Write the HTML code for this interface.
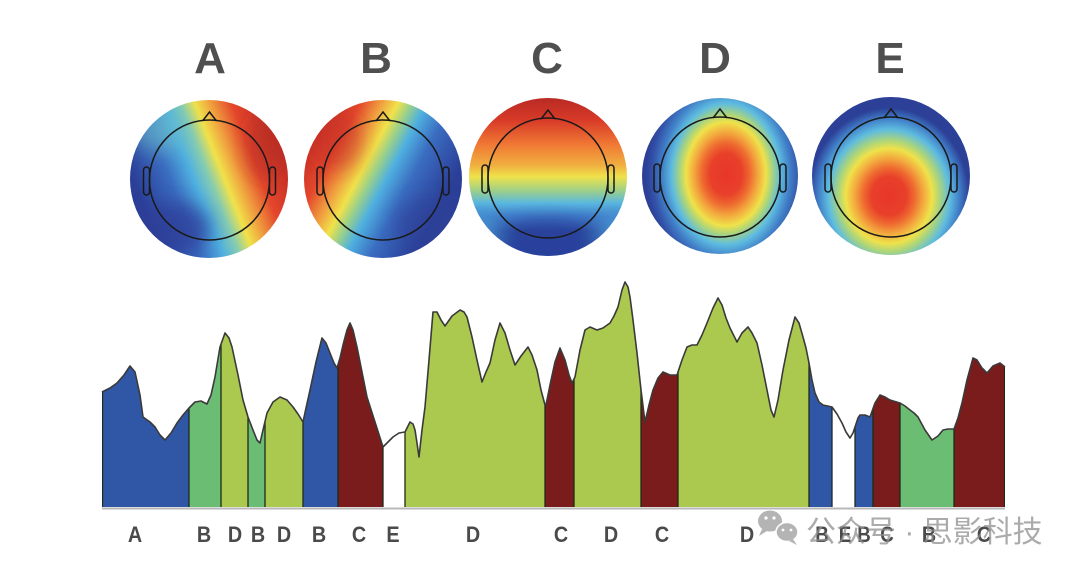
<!DOCTYPE html>
<html><head><meta charset="utf-8"><style>
html,body{margin:0;padding:0;background:#fff;}
svg{display:block;}
</style></head><body>
<svg width="1080" height="573" viewBox="0 0 1080 573" xmlns="http://www.w3.org/2000/svg">
<defs>
  <clipPath id="cA"><circle cx="209" cy="179" r="79"/></clipPath>
  <clipPath id="cB"><circle cx="383" cy="179" r="79"/></clipPath>
  <clipPath id="cC"><circle cx="548" cy="177" r="79"/></clipPath>
  <clipPath id="cD"><circle cx="720" cy="176" r="78"/></clipPath>
  <clipPath id="cE"><circle cx="891" cy="176" r="79"/></clipPath>
  <filter id="bl" x="-50%" y="-50%" width="200%" height="200%"><feGaussianBlur stdDeviation="9"/></filter>
  <linearGradient id="gA" gradientUnits="userSpaceOnUse" x1="146" y1="211" x2="304" y2="149">
    <stop offset="0" stop-color="#2b3f98"/><stop offset="0.2" stop-color="#3a6cc0"/>
    <stop offset="0.33" stop-color="#4fb0e0"/><stop offset="0.42" stop-color="#86ccb0"/>
    <stop offset="0.5" stop-color="#f0e24a"/><stop offset="0.58" stop-color="#f0a440"/>
    <stop offset="0.7" stop-color="#e4472c"/><stop offset="0.9" stop-color="#c02a24"/>
    <stop offset="1" stop-color="#a82222"/>
  </linearGradient>
  <linearGradient id="gB" gradientUnits="userSpaceOnUse" x1="290" y1="125" x2="440" y2="205">
    <stop offset="0" stop-color="#a82222"/><stop offset="0.12" stop-color="#c02a24"/>
    <stop offset="0.3" stop-color="#e4472c"/><stop offset="0.42" stop-color="#f0a440"/>
    <stop offset="0.5" stop-color="#f0e24a"/><stop offset="0.57" stop-color="#9ad08a"/>
    <stop offset="0.65" stop-color="#4fb0e0"/><stop offset="0.78" stop-color="#3a6cc0"/>
    <stop offset="1" stop-color="#2b3f98"/>
  </linearGradient>
  <linearGradient id="gC" gradientUnits="userSpaceOnUse" x1="0" y1="98" x2="0" y2="255">
    <stop offset="0" stop-color="#b82a24"/><stop offset="0.14" stop-color="#d83a28"/>
    <stop offset="0.3" stop-color="#f07a34"/><stop offset="0.43" stop-color="#f0b040"/>
    <stop offset="0.5" stop-color="#efe24a"/><stop offset="0.59" stop-color="#9ed088"/>
    <stop offset="0.67" stop-color="#5ab8e0"/><stop offset="0.75" stop-color="#3f7ac8"/>
    <stop offset="0.85" stop-color="#2c48a0"/><stop offset="1" stop-color="#2a44a0"/>
  </linearGradient>
  <radialGradient id="gD" gradientUnits="userSpaceOnUse" cx="0" cy="0" r="80" gradientTransform="translate(726,174) scale(1,1.3)">
    <stop offset="0" stop-color="#e8362a"/><stop offset="0.2" stop-color="#e8402a"/>
    <stop offset="0.3" stop-color="#ee6a30"/><stop offset="0.4" stop-color="#f3a83e"/>
    <stop offset="0.5" stop-color="#efe24a"/><stop offset="0.58" stop-color="#a8d47e"/>
    <stop offset="0.68" stop-color="#5ebce0"/><stop offset="0.8" stop-color="#4180c8"/>
    <stop offset="0.92" stop-color="#3352a8"/><stop offset="1" stop-color="#2c4098"/>
  </radialGradient>
  <radialGradient id="gE" gradientUnits="userSpaceOnUse" cx="0" cy="0" r="80" gradientTransform="translate(889,196) scale(1,1.1)">
    <stop offset="0" stop-color="#e8362a"/><stop offset="0.22" stop-color="#e8402a"/>
    <stop offset="0.32" stop-color="#ee6a30"/><stop offset="0.43" stop-color="#f3a83e"/>
    <stop offset="0.54" stop-color="#efe24a"/><stop offset="0.64" stop-color="#a8d47e"/>
    <stop offset="0.76" stop-color="#5ebce0"/><stop offset="0.88" stop-color="#4180c8"/>
    <stop offset="1" stop-color="#2c4098"/>
  </radialGradient>
  <clipPath id="area"><path d="M102,507 L102,392 L110,388 L117,383 L124,375 L130,366 L135,372 L140,395 L143,417 L150,422 L155,427 L160,435 L165,440 L171,433 L177,423 L183,415 L189,408 L195,402 L201,401 L207,404 L211,395 L215,377 L220,347 L225,333 L229,338 L232,347 L238,375 L243,400 L248,417 L253,430 L257,440 L260,443 L263,430 L267,413 L273,402 L280,397 L287,400 L293,407 L298,414 L303,422 L306,408 L310,390 L316,362 L322,338 L326,343 L330,353 L334,363 L337,368 L340,358 L343,345 L347,330 L350,323 L353,330 L357,347 L362,372 L367,397 L375,422 L383,447 L388,442 L393,437 L399,433 L405,432 L410,422 L413,424 L415,430 L417,443 L419,457 L422,430 L425,407 L429,360 L433,312 L437,312 L441,320 L445,326 L452,316 L460,310 L464,312 L467,317 L472,337 L477,360 L482,382 L486,372 L490,363 L495,340 L500,323 L505,333 L510,350 L515,365 L521,356 L528,347 L532,355 L537,370 L541,390 L545,405 L546,405 L550,385 L555,362 L560,348 L565,360 L569,375 L572,383 L575,377 L580,350 L585,330 L590,327 L597,330 L603,328 L610,323 L614,316 L618,307 L622,290 L625,282 L628,287 L630,297 L633,320 L637,353 L641,390 L645,422 L649,405 L653,390 L658,378 L663,372 L670,375 L677,375 L682,360 L687,347 L692,345 L697,345 L702,335 L707,323 L713,308 L718,298 L722,305 L726,318 L730,328 L737,342 L742,333 L748,327 L752,333 L757,343 L762,365 L767,390 L771,410 L774,417 L778,400 L783,370 L789,340 L795,317 L799,323 L803,337 L806,348 L809,363 L812,380 L815,393 L819,402 L823,405 L832,407 L837,414 L842,423 L846,432 L850,438 L853,433 L855,427 L858,418 L860,415 L865,415 L870,417 L875,403 L880,395 L885,397 L890,400 L900,403 L905,406 L910,410 L914,413 L918,417 L925,430 L932,440 L938,436 L943,430 L948,429 L954,429 L958,418 L962,403 L967,380 L973,358 L977,360 L982,368 L987,373 L993,366 L1000,363 L1005,367 L1005,507 Z"/></clipPath>
</defs>

<!-- Titles -->
<g font-family="Liberation Sans, Arial, sans-serif" font-weight="bold" font-size="44" fill="#4f4f4f" text-anchor="middle">
  <text x="210" y="73">A</text>
  <text x="376" y="73">B</text>
  <text x="547" y="73">C</text>
  <text x="715" y="73">D</text>
  <text x="890" y="73">E</text>
</g>

<!-- Map A -->
<g clip-path="url(#cA)">
  <rect x="120" y="90" width="180" height="180" fill="url(#gA)"/>
  <g filter="url(#bl)">
    <ellipse cx="172" cy="228" rx="38" ry="26" fill="#2b3f98" opacity="0.75"/>
    <ellipse cx="160" cy="130" rx="28" ry="22" fill="#6cc0c8" opacity="0.55"/>
    <ellipse cx="268" cy="145" rx="22" ry="35" fill="#b02a24" opacity="0.5"/>
  </g>
</g>
<!-- Map B -->
<g clip-path="url(#cB)">
  <rect x="294" y="90" width="180" height="180" fill="url(#gB)"/>
  <g filter="url(#bl)">
    <ellipse cx="430" cy="225" rx="35" ry="28" fill="#2b3f98" opacity="0.6"/>
    <ellipse cx="338" cy="140" rx="25" ry="30" fill="#c02a24" opacity="0.45"/>
  </g>
</g>
<!-- Map C -->
<g clip-path="url(#cC)">
  <rect x="460" y="90" width="180" height="180" fill="url(#gC)"/>
  <g filter="url(#bl)">
    <ellipse cx="478" cy="232" rx="22" ry="22" fill="#4aa0d8" opacity="0.75"/>
    <ellipse cx="618" cy="232" rx="22" ry="22" fill="#4aa0d8" opacity="0.75"/>
    <ellipse cx="548" cy="240" rx="40" ry="20" fill="#2a3c98" opacity="0.6"/>
  </g>
</g>
<!-- Map D -->
<g clip-path="url(#cD)">
  <rect x="630" y="90" width="180" height="180" fill="url(#gD)"/>
</g>
<!-- Map E -->
<g clip-path="url(#cE)">
  <rect x="800" y="90" width="180" height="180" fill="url(#gE)"/>
</g>

<!-- Head outlines -->
<g fill="none" stroke="#1a1a1a" stroke-width="1.5">
  <g transform="translate(209.5,180)">
    <circle r="60"/><path d="M-7,-59 L0,-68 L7,-59"/>
    <rect x="-66" y="-13" width="6" height="28" rx="3"/><rect x="60" y="-13" width="6" height="28" rx="3"/>
  </g>
  <g transform="translate(383,180)">
    <circle r="60"/><path d="M-7,-59 L0,-68 L7,-59"/>
    <rect x="-66" y="-13" width="6" height="28" rx="3"/><rect x="60" y="-13" width="6" height="28" rx="3"/>
  </g>
  <g transform="translate(548,178)">
    <circle r="60"/><path d="M-7,-59 L0,-68 L7,-59"/>
    <rect x="-66" y="-13" width="6" height="28" rx="3"/><rect x="60" y="-13" width="6" height="28" rx="3"/>
  </g>
  <g transform="translate(720,177)">
    <circle r="60"/><path d="M-7,-59 L0,-68 L7,-59"/>
    <rect x="-66" y="-13" width="6" height="28" rx="3"/><rect x="60" y="-13" width="6" height="28" rx="3"/>
  </g>
  <g transform="translate(891,177)">
    <circle r="60"/><path d="M-7,-59 L0,-68 L7,-59"/>
    <rect x="-66" y="-13" width="6" height="28" rx="3"/><rect x="60" y="-13" width="6" height="28" rx="3"/>
  </g>
</g>

<!-- Chart segments -->
<g clip-path="url(#area)">
  <rect x="102" y="270" width="87" height="240" fill="#2f57a6"/>
  <rect x="189" y="270" width="32" height="240" fill="#6cbd74"/>
  <rect x="221" y="270" width="27" height="240" fill="#abc94f"/>
  <rect x="248" y="270" width="17" height="240" fill="#6cbd74"/>
  <rect x="265" y="270" width="38" height="240" fill="#abc94f"/>
  <rect x="303" y="270" width="35" height="240" fill="#2f57a6"/>
  <rect x="338" y="270" width="45" height="240" fill="#7b1c1c"/>
  <rect x="405" y="270" width="140" height="240" fill="#abc94f"/>
  <rect x="545" y="270" width="29" height="240" fill="#7b1c1c"/>
  <rect x="574" y="270" width="67" height="240" fill="#abc94f"/>
  <rect x="641" y="270" width="37" height="240" fill="#7b1c1c"/>
  <rect x="678" y="270" width="131" height="240" fill="#abc94f"/>
  <rect x="809" y="270" width="23" height="240" fill="#2f57a6"/>
  <rect x="855" y="270" width="18" height="240" fill="#2f57a6"/>
  <rect x="873" y="270" width="27" height="240" fill="#7b1c1c"/>
  <rect x="900" y="270" width="54" height="240" fill="#6cbd74"/>
  <rect x="954" y="270" width="51" height="240" fill="#7b1c1c"/>
  <g stroke="#1f2a1a" stroke-width="1.3">
    <line x1="102.5" y1="270" x2="102.5" y2="510"/>
    <line x1="189" y1="270" x2="189" y2="510"/><line x1="221" y1="270" x2="221" y2="510"/>
    <line x1="248" y1="270" x2="248" y2="510"/><line x1="265" y1="270" x2="265" y2="510"/>
    <line x1="303" y1="270" x2="303" y2="510"/><line x1="338" y1="270" x2="338" y2="510"/>
    <line x1="383" y1="270" x2="383" y2="510"/><line x1="405" y1="270" x2="405" y2="510"/>
    <line x1="545" y1="270" x2="545" y2="510"/><line x1="574" y1="270" x2="574" y2="510"/>
    <line x1="641" y1="270" x2="641" y2="510"/><line x1="678" y1="270" x2="678" y2="510"/>
    <line x1="809" y1="270" x2="809" y2="510"/><line x1="832" y1="270" x2="832" y2="510"/>
    <line x1="855" y1="270" x2="855" y2="510"/><line x1="873" y1="270" x2="873" y2="510"/>
    <line x1="900" y1="270" x2="900" y2="510"/><line x1="954" y1="270" x2="954" y2="510"/>
    <line x1="1004.5" y1="270" x2="1004.5" y2="510"/>
  </g>
</g>
<!-- Curve -->
<polyline fill="none" stroke="#3a3a3a" stroke-width="1.6" stroke-linejoin="round" points="102,392 110,388 117,383 124,375 130,366 135,372 140,395 143,417 150,422 155,427 160,435 165,440 171,433 177,423 183,415 189,408 195,402 201,401 207,404 211,395 215,377 220,347 225,333 229,338 232,347 238,375 243,400 248,417 253,430 257,440 260,443 263,430 267,413 273,402 280,397 287,400 293,407 298,414 303,422 306,408 310,390 316,362 322,338 326,343 330,353 334,363 337,368 340,358 343,345 347,330 350,323 353,330 357,347 362,372 367,397 375,422 383,447 388,442 393,437 399,433 405,432 410,422 413,424 415,430 417,443 419,457 422,430 425,407 429,360 433,312 437,312 441,320 445,326 452,316 460,310 464,312 467,317 472,337 477,360 482,382 486,372 490,363 495,340 500,323 505,333 510,350 515,365 521,356 528,347 532,355 537,370 541,390 545,405 546,405 550,385 555,362 560,348 565,360 569,375 572,383 575,377 580,350 585,330 590,327 597,330 603,328 610,323 614,316 618,307 622,290 625,282 628,287 630,297 633,320 637,353 641,390 645,422 649,405 653,390 658,378 663,372 670,375 677,375 682,360 687,347 692,345 697,345 702,335 707,323 713,308 718,298 722,305 726,318 730,328 737,342 742,333 748,327 752,333 757,343 762,365 767,390 771,410 774,417 778,400 783,370 789,340 795,317 799,323 803,337 806,348 809,363 812,380 815,393 819,402 823,405 832,407 837,414 842,423 846,432 850,438 853,433 855,427 858,418 860,415 865,415 870,417 875,403 880,395 885,397 890,400 900,403 905,406 910,410 914,413 918,417 925,430 932,440 938,436 943,430 948,429 954,429 958,418 962,403 967,380 973,358 977,360 982,368 987,373 993,366 1000,363 1005,367"/>
<!-- Baseline -->
<line x1="102" y1="508.5" x2="1005" y2="508.5" stroke="#b8b8b8" stroke-width="2"/>

<!-- Watermark icon -->
<g fill="#a8a8a8" opacity="0.85">
  <ellipse cx="770" cy="521" rx="12" ry="10.5"/>
  <path d="M762,529 L759,536 L767,531 Z"/>
  <ellipse cx="787" cy="532" rx="11" ry="9.5" stroke="#fff" stroke-width="1.5"/>
  <path d="M793,539 L797,545 L789,541 Z"/>
</g>
<g fill="#fff">
  <circle cx="766" cy="518" r="1.6"/><circle cx="774" cy="518" r="1.6"/>
  <circle cx="783" cy="530" r="1.4"/><circle cx="791" cy="530" r="1.4"/>
</g>

<!-- Labels -->
<g font-family="Liberation Sans, Arial, sans-serif" font-weight="bold" font-size="22" fill="#4a4a4a" text-anchor="middle">
  <text transform="translate(135,542) scale(0.9,1)">A</text>
  <text transform="translate(204,542) scale(0.9,1)">B</text>
  <text transform="translate(235,542) scale(0.9,1)">D</text>
  <text transform="translate(258,542) scale(0.9,1)">B</text>
  <text transform="translate(284,542) scale(0.9,1)">D</text>
  <text transform="translate(319,542) scale(0.9,1)">B</text>
  <text transform="translate(359,542) scale(0.9,1)">C</text>
  <text transform="translate(393,542) scale(0.9,1)">E</text>
  <text transform="translate(473,542) scale(0.9,1)">D</text>
  <text transform="translate(561,542) scale(0.9,1)">C</text>
  <text transform="translate(611,542) scale(0.9,1)">D</text>
  <text transform="translate(662,542) scale(0.9,1)">C</text>
  <text transform="translate(747,542) scale(0.9,1)">D</text>
  <text transform="translate(822,542) scale(0.85,1)">B</text>
  <text transform="translate(845,542) scale(0.85,1)">E</text>
  <text transform="translate(864,542) scale(0.85,1)">B</text>
  <text transform="translate(887,542) scale(0.85,1)">C</text>
  <text transform="translate(929,542) scale(0.9,1)">B</text>
  <text transform="translate(984,542) scale(0.9,1)">C</text>
</g>
<text x="806" y="542" font-family="Liberation Sans, 'Noto Sans CJK SC', sans-serif" font-size="30" fill="#8f8f8f" fill-opacity="0.75">公众号 · 思影科技</text>
</svg>
</body></html>
